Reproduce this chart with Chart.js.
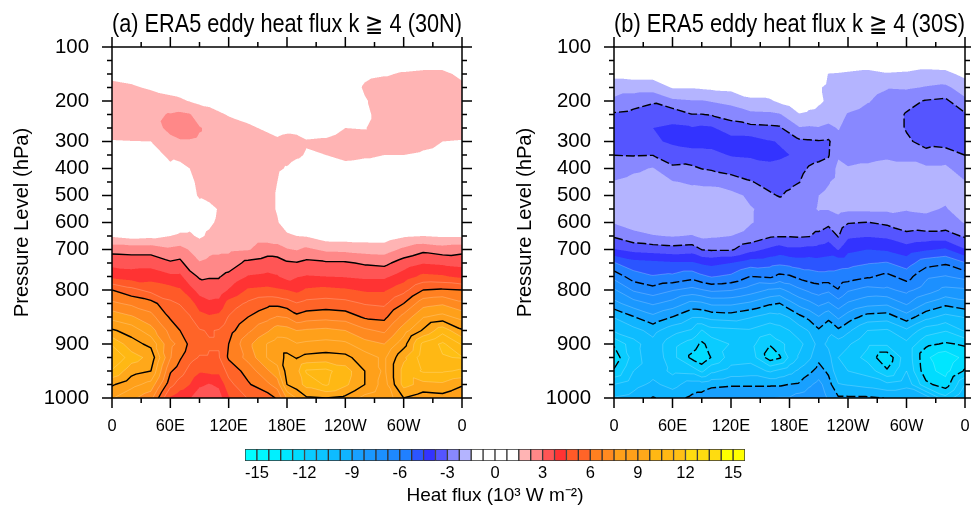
<!DOCTYPE html>
<html>
<head>
<meta charset="utf-8">
<title>ERA5 eddy heat flux</title>
<script src="https://cdn.jsdelivr.net/npm/chart.js@4"></script>
<style>
  html, body { margin: 0; padding: 0; background: #fff; }
  #page { position: relative; width: 971px; height: 505px; overflow: hidden; }
  canvas { position: absolute; }
</style>
</head>
<body>
<div id="page">
  <canvas id="panelA" width="485" height="440" style="left:0;top:0"></canvas>
  <canvas id="panelB" width="481" height="440" style="left:490px;top:0"></canvas>
  <canvas id="colorBar" width="971" height="65" style="left:0;top:440px"></canvas>
</div>
<script>
// ERA5 pressure levels, bottom to top. The axis spaces them evenly by index
const levels = [1000,975,950,925,900,875,850,825,800,775,750,700,650,600,550,500,450,400,350,300,250,225,200,175,150,125,100];
const levelLabels = [1000,900,800,700,600,500,400,300,200,100];
const lonLabels = ['0','60E','120E','180E','120W','60W','0'];

// Contour levels and the colours of the 42 bands between them
const bandColors = [
  '#00FFFF','#00F8FF','#00F0FF','#00E6FF','#00DCFF','#0ACCFF','#0CC4FF','#0EBCFF','#10B4FF','#18A0FF','#1A98FF','#1C90FF','#1E88FF','#2080FF','#2B55FF','#3333FF','#5555FF','#8888FF','#B4B4FF',
  '#FFFFFF','#FFFFFF','#FFFFFF','#FFFFFF',
  '#FFB4B4','#FF8888','#FF5555','#FF3333','#FF5A28','#FF6428','#FF8020','#FF8A20','#FFA01A','#FFA01A','#FFA81A','#FFB814','#FFB814','#FFC015','#FFDC10','#FFDC10','#FFDC10','#FFFF00','#FFFF00'
];
const levelStep = 0.75;
const lowestLevel = -15;

// Panel a, 30N: one list per longitude, 1000 hPa first
const lonsA = [0,20,40,60,70,80,90,100,110,120,140,160,170,180,190,200,220,240,260,280,300,320,340,360];
const fluxA = [
  [8.3,9.1,10.4,11.3,10.4,9.1,8.0,6.9,6.0,4.3,3.5,2.75,1.4, 0.7,0.7,0.8,0.9,1.0,1.3,1.45,1.9,2.0,1.9,1.7,1.3,0.7,0.3],
  [7.7,8.5,9.3,10.1,9.3,8.7,7.6,6.6,5.5,4.1,3.45,2.7,1.2, 0.7,0.7,0.8,0.9,1.0,1.3,1.48,1.9,2.0,1.9,1.6,1.2,0.7,0.3],
  [7.0,8.0,9.0,9.5,8.8,7.8,7.0,6.3,5.0,4.2,3.45,2.7,1.3, 0.7,0.8,0.8,0.9,1.1,1.3,1.5,2.0,2.1,1.9,1.4,1.0,0.6,0.3],
  [4.4,5.5,6.1,6.8,6.9,6.5,5.9,5.4,4.8,3.9,3.1,2.4,1.5, 1.0,1.0,1.1,1.2,1.4,1.6,2.1,2.4,2.3,1.65,1.3,0.9,0.6,0.3],
  [4.0,4.9,5.6,6.1,6.6,6.0,5.7,5.2,4.6,3.9,3.2,2.5,1.6, 1.2,1.2,1.1,1.2,1.3,1.7,2.2,2.5,2.4,1.6,1.2,0.9,0.6,0.3],
  [3.8,4.5,5.0,5.5,5.8,5.6,5.3,4.9,4.0,3.3,2.6,2.2,1.6, 1.3,1.3,1.35,1.4,1.5,1.9,2.2,2.5,2.3,1.47,1.15,0.9,0.6,0.3],
  [3.2,3.9,4.6,5.2,5.5,5.3,4.8,4.1,3.5,2.9,2.3,1.9,1.4, 1.3,1.35,1.55,1.6,1.75,2.0,2.15,2.3,1.9,1.35,1.1,0.9,0.6,0.3],
  [3.1,3.7,4.7,5.2,5.3,5.2,4.6,3.9,3.3,2.95,2.4,2.1,1.6, 1.4,1.3,1.7,1.8,1.9,2.0,2.1,2.1,1.75,1.3,1.05,0.9,0.6,0.3],
  [3.4,3.9,4.7,5.2,5.3,5.3,4.7,4.0,3.3,2.95,2.5,2.1,1.8, 1.6,1.55,1.8,1.9,2.0,2.05,2.1,2.0,1.6,1.15,0.95,0.8,0.5,0.3],
  [4.4,5.0,5.5,6.1,6.0,5.7,5.3,4.8,3.8,3.2,2.6,2.1,1.8, 1.8,1.8,2.0,2.0,2.1,2.1,2.0,1.8,1.45,1.1,1.0,0.7,0.5,0.3],
  [5.3,5.9,6.3,7.0,7.3,6.6,6.0,5.4,4.6,3.8,3.2,2.2,1.9, 1.9,1.8,1.9,2.0,2.0,2.0,1.9,1.6,1.3,1.1,0.9,0.7,0.5,0.3],
  [5.6,6.6,7.4,8.3,8.3,7.4,6.5,5.8,4.7,3.9,3.4,2.6,1.9, 1.8,1.7,1.7,1.7,1.7,1.9,1.7,1.4,1.15,1.0,0.8,0.6,0.4,0.2],
  [6.1,7.1,8.0,8.6,8.6,7.9,6.8,5.8,4.6,3.8,3.4,2.5,1.9, 1.55,1.45,1.45,1.5,1.6,1.7,1.6,1.3,1.1,0.95,0.8,0.6,0.4,0.2],
  [7.6,9.0,9.3,9.2,8.6,7.8,6.7,5.6,4.5,3.5,3.1,2.3,1.6, 1.2,1.0,1.0,1.15,1.45,1.75,1.7,1.35,1.15,1.0,0.8,0.6,0.4,0.2],
  [8.3,9.4,9.5,8.95,8.3,7.5,6.2,5.3,4.3,3.7,3.05,2.2,1.5, 1.1,0.95,0.95,1.05,1.25,1.6,1.7,1.3,1.1,1.0,0.8,0.6,0.4,0.2],
  [8.9,10.0,10.6,9.2,8.4,7.6,6.4,5.5,4.6,3.8,3.2,2.4,1.45, 1.1,0.9,0.9,1.0,1.2,1.45,1.55,1.2,1.0,0.9,0.7,0.5,0.4,0.2],
  [9.0,10.6,10.7,9.3,8.5,7.7,6.5,5.6,4.7,3.75,3.1,2.1,1.1, 0.9,0.8,0.8,0.9,1.1,1.5,1.6,1.2,1.0,0.9,0.7,0.5,0.4,0.2],
  [8.8,9.9,10.1,9.2,8.4,7.5,6.4,5.5,4.6,3.7,3.1,2.05,1.1, 0.8,0.75,0.8,0.9,1.25,1.7,1.8,1.5,1.1,0.95,0.7,0.5,0.4,0.2],
  [8.0,9.0,9.0,8.6,7.8,6.9,5.9,5.2,4.4,3.6,2.9,1.95,1.1, 0.8,0.7,0.75,0.85,1.2,1.6,1.9,1.45,1.25,1.4,1.65,1.25,0.7,0.3],
  [7.6,7.9,8.1,8.1,7.5,6.6,5.8,5.1,4.4,3.6,2.8,1.9,1.1, 0.8,0.7,0.7,0.8,1.2,1.5,1.9,2.0,2.0,2.0,2.0,1.4,0.9,0.4],
  [9.0,10.0,10.0,9.6,8.7,7.9,7.0,6.0,5.0,4.1,3.35,2.4,1.4, 0.9,0.8,0.8,0.9,1.1,1.5,1.9,2.0,2.0,2.0,2.0,1.6,0.9,0.4],
  [8.6,9.5,10.6,10.9,10.7,9.1,8.2,7.2,6.0,4.7,3.7,2.8,1.5, 0.85,0.75,0.75,0.85,1.05,1.4,1.7,1.9,2.0,2.0,2.0,1.7,1.0,0.4],
  [8.7,9.6,10.6,11.2,11.4,10.2,8.5,7.4,6.1,4.6,3.6,2.6,1.4, 0.8,0.7,0.7,0.8,1.0,1.3,1.5,1.9,2.0,2.1,2.1,1.7,1.0,0.4],
  [8.3,9.1,10.4,11.3,10.4,9.1,8.0,6.9,6.0,4.3,3.5,2.75,1.4, 0.7,0.7,0.8,0.9,1.0,1.3,1.45,1.9,2.0,1.9,1.7,1.3,0.7,0.3]
];

// Panel b, 30S
const lonsB = [0,20,40,60,80,90,100,120,140,160,170,180,190,200,210,220,230,240,260,280,300,320,340,360];
const fluxB = [
  [-9.7,-10.5,-11.9,-12.5,-11.9,-10.4,-9.7,-8.5,-7.6,-6.5,-5.3,-3.8,-2.9, -2.2,-1.9,-1.9,-2.2,-2.7,-3.01,-3.3,-3.4,-3.1,-2.4,-1.9,-1.3,-0.8,-0.3],
  [-9.5,-10,-10.5,-10.9,-10.8,-10,-9.05,-7.85,-6.65,-5.6,-4.8,-3.5,-2.5, -1.9,-1.7,-1.7,-2.0,-2.4,-3.05,-3.4,-3.4,-3.2,-2.7,-1.9,-1.2,-0.8,-0.3],
  [-8.95,-9.6,-10,-9.9,-10,-9.5,-8.45,-7.4,-6.3,-5.3,-4.7,-3.4,-2.3, -1.7,-1.55,-1.6,-1.9,-2.2,-3.02,-3.6,-3.75,-3.4,-2.9,-1.9,-1.2,-0.8,-0.3],
  [-9.3,-10,-10.7,-11,-11,-10.2,-9.02,-7.8,-6.7,-5.4,-4.6,-3.3,-2.2, -1.6,-1.55,-1.6,-2.2,-2.9,-3.3,-3.9,-3.85,-3.5,-2.4,-1.45,-1.1,-0.8,-0.3],
  [-8.85,-9.4,-10.8,-12.2,-11.6,-10.6,-9.7,-8.5,-7,-5.7,-4.6,-3.4,-2.3, -1.7,-1.55,-1.95,-2.35,-2.85,-3.5,-4,-3.8,-3.02,-2.3,-1.45,-1.1,-0.8,-0.3],
  [-8.7,-9.4,-11.4,-12.6,-12.15,-11.3,-9.7,-8.4,-6.8,-5.4,-4.4,-2.98,-2.1, -1.6,-1.5,-1.9,-2.4,-3.02,-3.5,-4,-3.9,-3.02,-2.3,-1.4,-1.1,-0.8,-0.3],
  [-8.4,-9.2,-10.7,-11.95,-11.7,-10.8,-9.5,-8.1,-6.6,-5.2,-4.3,-2.9,-2.15, -1.6,-1.5,-1.95,-2.4,-3.1,-3.55,-4,-3.85,-2.95,-2.2,-1.35,-1,-0.7,-0.3],
  [-8.3,-9.1,-10.2,-10.9,-11.2,-10.7,-9.4,-8.1,-6.7,-5.4,-4.5,-2.9,-2.25, -1.8,-1.6,-2,-2.7,-3.25,-3.8,-4.1,-3.3,-2.75,-2,-1.3,-1,-0.7,-0.3],
  [-8.3,-9.1,-10.1,-10.8,-11,-10.6,-9.7,-8.4,-7.1,-6.02,-4.9,-3.5,-2.5, -2.2,-2.2,-2.4,-2.95,-3.4,-3.85,-4.1,-3.2,-2.45,-1.6,-1.2,-0.9,-0.6,-0.3],
  [-8.3,-9.1,-10.6,-12.4,-11.95,-11,-10.1,-8.9,-7.6,-5.85,-5,-3.9,-2.9, -2.5,-2.45,-2.9,-3.25,-3.6,-3.9,-3.8,-3.15,-2.4,-1.6,-1,-0.8,-0.5,-0.2],
  [-8.2,-9.1,-10.3,-12.1,-11.4,-10.8,-10,-9.02,-7.7,-6.2,-5.1,-4.1,-2.95, -2.6,-2.6,-3.05,-3.3,-3.55,-3.85,-3.7,-3.1,-2.3,-1.35,-0.9,-0.7,-0.5,-0.2],
  [-8.2,-8.98,-10,-11.1,-11.1,-10.5,-9.7,-8.5,-7.3,-6.1,-5,-3.9,-2.95, -2.6,-2.6,-2.85,-3.2,-3.45,-3.75,-3.65,-2.6,-2,-1.2,-0.8,-0.6,-0.4,-0.2],
  [-7.9,-8.9,-9.6,-10.4,-10.7,-10.1,-9.2,-8,-6.9,-5.8,-4.9,-3.9,-2.9, -2.55,-2.5,-2.6,-3.02,-3.2,-3.4,-3.15,-2.3,-1.55,-0.9,-0.7,-0.6,-0.4,-0.2],
  [-7.7,-8.4,-9.2,-9.9,-10.2,-9.7,-8.8,-7.7,-6.6,-5.6,-4.9,-4,-2.95, -2.5,-2.4,-2.5,-2.7,-2.95,-3.2,-3.1,-2.35,-1.65,-1.2,-0.9,-0.7,-0.4,-0.2],
  [-7.5,-8,-8.7,-9.2,-9.5,-9.1,-8.3,-7.3,-6.4,-5.5,-4.8,-4.02,-3.25, -2.5,-2.2,-2.25,-2.5,-2.85,-3.15,-3.05,-2.3,-1.7,-1.4,-1.45,-1.2,-0.8,-0.3],
  [-8.4,-8.7,-9.15,-9.5,-9.9,-9.6,-8.8,-7.6,-6.6,-5.5,-4.9,-4.1,-3.5, -2.8,-2.2,-2.1,-2.3,-2.75,-3.05,-3.1,-2.45,-1.85,-1.6,-1.6,-1.52,-0.9,-0.4],
  [-8.9,-9.7,-10.3,-10.5,-10.1,-9.15,-8.1,-7.1,-6.05,-5.5,-5,-3.7,-2.95, -2.6,-2,-1.9,-2,-2.05,-2.35,-2.5,-2.2,-2,-1.75,-1.7,-1.55,-0.95,-0.4],
  [-8.9,-9.8,-10.5,-10.8,-10.4,-9.6,-8.6,-7.6,-6.65,-5.6,-5.02,-4.3,-3.6, -2.95,-2.1,-1.85,-1.9,-2.2,-2.5,-2.65,-2.5,-2.3,-1.9,-1.7,-1.6,-1,-0.4],
  [-8.9,-10,-10.8,-11.5,-11.1,-10.5,-9.3,-8,-7.02,-5.9,-5.2,-4.5,-3.7, -3.02,-2.1,-1.8,-1.85,-2.1,-2.5,-2.6,-2.55,-2.5,-2.2,-2,-1.7,-1.05,-0.4],
  [-9.02,-10.3,-11.9,-12.6,-11.1,-10.6,-9.4,-8.1,-6.9,-6.2,-5.3,-4.4,-3.6, -2.85,-2.1,-1.75,-1.7,-1.95,-2.4,-2.5,-2.6,-2.65,-2.5,-2.2,-1.55,-1,-0.4],
  [-9.02,-10,-10.5,-10.7,-10.7,-9.9,-8.6,-7.4,-6.55,-5.7,-4.9,-4.1,-3.2, -2.6,-2.2,-2,-1.9,-2.1,-2.4,-2.9,-3.05,-3.05,-2.8,-2.15,-1.6,-1,-0.4],
  [-9.3,-11.8,-12.5,-12.6,-11.8,-10.9,-9.5,-8.3,-7.1,-6.6,-5.7,-4.4,-3.3, -2.45,-2.15,-1.95,-1.85,-2.1,-2.8,-3.2,-3.35,-3.3,-3.05,-2.3,-1.75,-1.05,-0.4],
  [-11,-12.4,-13,-13.3,-12.1,-11.2,-10,-8.8,-7.7,-6.8,-5.9,-4.6,-3.3, -2.6,-2.3,-2.1,-2,-2.1,-2.65,-3.3,-3.35,-3.3,-3.15,-2.4,-1.7,-1,-0.4],
  [-9.7,-10.5,-11.9,-12.5,-11.9,-10.4,-9.7,-8.5,-7.6,-6.5,-5.3,-3.8,-2.9, -2.2,-1.9,-1.9,-2.2,-2.7,-3.01,-3.3,-3.4,-3.1,-2.4,-1.9,-1.3,-0.8,-0.3]
];

const FONT = "'Liberation Sans', Arial, sans-serif";

// Colour of a value, as RGB
const bandRGB = bandColors.map(c => [1, 3, 5].map(i => parseInt(c.substr(i, 2), 16)));
const bandIndex = v => {
  const k = Math.floor((v - lowestLevel) / levelStep) + 1;
  return Math.max(0, Math.min(bandColors.length - 1, k));
};

// Which cell of a sorted list holds the value
const cellOf = (list, v) => {
  let i = 0;
  while (i < list.length - 2 && v > list[i + 1]) i++;
  return i;
};

// Fill the plot area band by band, cells split in two triangles like the source contouring
const paintBands = (chart, lons, flux) => {
  const { ctx, chartArea, scales } = chart;
  const w = Math.round(chartArea.right - chartArea.left);
  const h = Math.round(chartArea.bottom - chartArea.top);
  const img = ctx.createImageData(w, h);
  const sub = 3;
  const xSamples = [];
  const ySamples = [];
  for (let i = 0; i < w * sub; i++) {
    const lon = scales.x.getValueForPixel(chartArea.left + (i + 0.5) / sub);
    const c = cellOf(lons, lon);
    xSamples.push([c, (lon - lons[c]) / (lons[c + 1] - lons[c])]);
  }
  for (let j = 0; j < h * sub; j++) {
    const idx = scales.y.getValueForPixel(chartArea.top + (j + 0.5) / sub);
    const r = Math.max(0, Math.min(levels.length - 2, Math.floor(idx)));
    ySamples.push([r, idx - r]);
  }
  for (let j = 0; j < h; j++) {
    for (let i = 0; i < w; i++) {
      let rs = 0, gs = 0, bs = 0;
      for (let sj = 0; sj < sub; sj++) {
        const [r, fy] = ySamples[j * sub + sj];
        for (let si = 0; si < sub; si++) {
          const [c, fx] = xSamples[i * sub + si];
          const v00 = flux[c][r], v10 = flux[c + 1][r], v01 = flux[c][r + 1], v11 = flux[c + 1][r + 1];
          const v = fx + fy <= 1
            ? v00 + fx * (v10 - v00) + fy * (v01 - v00)
            : v11 + (1 - fx) * (v01 - v11) + (1 - fy) * (v10 - v11);
          const rgb = bandRGB[bandIndex(v)];
          rs += rgb[0]; gs += rgb[1]; bs += rgb[2];
        }
      }
      const p = (j * w + i) * 4;
      const n = sub * sub;
      img.data[p] = rs / n; img.data[p + 1] = gs / n; img.data[p + 2] = bs / n; img.data[p + 3] = 255;
    }
  }
  ctx.putImageData(img, Math.round(chartArea.left), Math.round(chartArea.top));
};

// Contour lines of one level, chained so the dashes run on
const traceLevel = (level, lons, flux, scales) => {
  const pts = new Map();
  const links = new Map();
  const crossing = (a, b) => {
    const va = flux[a[0]][a[1]], vb = flux[b[0]][b[1]];
    if ((va >= level) === (vb >= level)) return null;
    const [p, q] = a[0] < b[0] || (a[0] === b[0] && a[1] < b[1]) ? [a, b] : [b, a];
    const key = p.join() + '|' + q.join();
    if (!pts.has(key)) {
      const t = (level - va) / (vb - va);
      pts.set(key, [
        scales.x.getPixelForValue(lons[a[0]] + t * (lons[b[0]] - lons[a[0]])),
        scales.y.getPixelForValue(a[1] + t * (b[1] - a[1]))
      ]);
    }
    return key;
  };
  const link = (k1, k2) => {
    if (!links.has(k1)) links.set(k1, []);
    if (!links.has(k2)) links.set(k2, []);
    links.get(k1).push(k2);
    links.get(k2).push(k1);
  };
  const triangle = (a, b, c) => {
    const hit = [crossing(a, b), crossing(b, c), crossing(c, a)].filter(Boolean);
    if (hit.length === 2) link(hit[0], hit[1]);
  };
  for (let c = 0; c < lons.length - 1; c++) {
    for (let r = 0; r < levels.length - 1; r++) {
      triangle([c, r], [c + 1, r], [c, r + 1]);
      triangle([c + 1, r + 1], [c, r + 1], [c + 1, r]);
    }
  }
  const used = new Set();
  const lines = [];
  const walk = start => {
    const line = [start];
    used.add(start);
    let cur = start;
    for (;;) {
      const next = links.get(cur).find(k => !used.has(k));
      if (!next) break;
      used.add(next);
      line.push(next);
      cur = next;
    }
    if (links.get(cur).includes(start) && line.length > 2) line.push(start);
    lines.push(line.map(k => pts.get(k)));
  };
  links.forEach((v, k) => { if (v.length === 1 && !used.has(k)) walk(k); });
  links.forEach((v, k) => { if (!used.has(k)) walk(k); });
  return lines;
};

const drawLines = (chart, lons, flux) => {
  const { ctx, chartArea, scales } = chart;
  ctx.save();
  ctx.beginPath();
  ctx.rect(chartArea.left, chartArea.top, chartArea.right - chartArea.left, chartArea.bottom - chartArea.top);
  ctx.clip();
  ctx.lineJoin = 'round';
  for (let n = 0; n < bandColors.length - 1; n++) {
    const level = lowestLevel + n * levelStep;
    const major = n % 4 === 0 && level !== 0;
    if (!major && Math.abs(level) < 5) continue;
    ctx.strokeStyle = major ? '#000' : 'rgba(255,255,255,0.3)';
    ctx.lineWidth = major ? 1.4 : 0.7;
    ctx.setLineDash(major && level < 0 ? [9, 3] : []);
    traceLevel(level, lons, flux, scales).forEach(line => {
      ctx.beginPath();
      line.forEach((p, i) => (i ? ctx.lineTo(p[0], p[1]) : ctx.moveTo(p[0], p[1])));
      ctx.stroke();
    });
  }
  ctx.restore();
};

// Frame and outward tick marks on all four sides
const drawFrame = chart => {
  const { ctx, chartArea: a, scales } = chart;
  ctx.save();
  ctx.strokeStyle = '#000';
  ctx.lineWidth = 1.5;
  ctx.strokeRect(a.left, a.top, a.right - a.left, a.bottom - a.top);
  ctx.beginPath();
  for (let lon = 0; lon <= 360; lon += 30) {
    const x = scales.x.getPixelForValue(lon);
    const len = lon % 60 === 0 ? 10 : 5;
    ctx.moveTo(x, a.top - len); ctx.lineTo(x, a.top);
    ctx.moveTo(x, a.bottom); ctx.lineTo(x, a.bottom + len);
  }
  levels.forEach((lev, i) => {
    const y = scales.y.getPixelForValue(i);
    const len = levelLabels.includes(lev) ? 10 : 5;
    ctx.moveTo(a.left - len, y); ctx.lineTo(a.left, y);
    ctx.moveTo(a.right, y); ctx.lineTo(a.right + len, y);
  });
  ctx.stroke();
  ctx.restore();
};

const fieldPlugin = (lons, flux) => ({
  id: 'contourField',
  beforeDatasetsDraw(chart) {
    paintBands(chart, lons, flux);
    drawLines(chart, lons, flux);
  },
  afterDatasetsDraw: drawFrame
});

const makePanel = (id, title, lons, flux, axisWidth, padRight, yTitlePad) => {
  const nodes = [];
  lons.forEach((lon, c) => levels.forEach((lev, r) => nodes.push({ x: lon, y: r, flux: flux[c][r] })));
  return new Chart(document.getElementById(id), {
    type: 'scatter',
    data: { datasets: [{ label: title, data: nodes, pointRadius: 0, showLine: false }] },
    plugins: [fieldPlugin(lons, flux)],
    options: {
      responsive: false,
      animation: false,
      events: [],
      layout: { padding: { left: 0, right: padRight, top: 0, bottom: 0 } },
      plugins: {
        legend: { display: false },
        tooltip: { enabled: false },
        title: {
          display: true, text: title, color: '#000', fullSize: false,
          font: { family: FONT, size: 25, weight: 'normal', lineHeight: 1.2 },
          padding: { top: 10, bottom: 7 }
        }
      },
      scales: {
        x: {
          type: 'linear', min: 0, max: 360,
          border: { display: false },
          grid: { display: false, drawTicks: false },
          ticks: {
            stepSize: 60, color: '#000', padding: 19, maxRotation: 0, autoSkip: false,
            font: { family: FONT, size: 16.4 },
            callback: v => lonLabels[v / 60]
          },
          afterFit: s => { s.height = 42; s.paddingLeft = 0; s.paddingRight = 0; }
        },
        y: {
          type: 'linear', min: 0, max: levels.length - 1,
          border: { display: false },
          grid: { display: false, drawTicks: false },
          title: {
            display: true, text: 'Pressure Level (hPa)', color: '#000',
            font: { family: FONT, size: 20.2, lineHeight: 1.2 },
            padding: { top: yTitlePad, bottom: 0 }
          },
          ticks: {
            stepSize: 1, autoSkip: false, color: '#000', padding: 23,
            font: { family: FONT, size: 20.4 },
            callback: v => (levelLabels.includes(levels[v]) ? String(levels[v]) : '')
          },
          afterFit: s => { s.width = axisWidth; }
        }
      }
    }
  });
};

makePanel('panelA', '(a) ERA5 eddy heat flux k \u2267 4 (30N)', lonsA, fluxA, 112, 23, 10);
makePanel('panelB', '(b) ERA5 eddy heat flux k \u2267 4 (30S)', lonsB, fluxB, 124, 6, 23);

// Label bar: one floating box per colour band
const barEdges = bandColors.map((c, k) => [lowestLevel + (k - 1) * levelStep, lowestLevel + k * levelStep]);
new Chart(document.getElementById('colorBar'), {
  type: 'bar',
  data: {
    labels: ['flux'],
    datasets: [{
      data: barEdges.map(e => ({ x: e, y: 'flux' })),
      backgroundColor: bandColors,
      borderColor: '#333',
      borderWidth: 1,
      borderSkipped: false,
      barPercentage: 1,
      categoryPercentage: 1
    }]
  },
  options: {
    indexAxis: 'y',
    responsive: false,
    animation: false,
    events: [],
    layout: { padding: { left: 245, right: 226, top: 9, bottom: 0 } },
    plugins: { legend: { display: false }, tooltip: { enabled: false } },
    scales: {
      y: { display: false },
      x: {
        type: 'linear', min: lowestLevel - levelStep, max: -lowestLevel + levelStep,
        border: { display: false },
        grid: { display: false, drawTicks: false },
        title: {
          display: true, text: 'Heat flux (10\u00B3 W m\u207B\u00B2)', color: '#000',
          font: { family: FONT, size: 19, lineHeight: 1 },
          padding: { top: 0, bottom: 0 }
        },
        ticks: {
          stepSize: 3, includeBounds: false, color: '#000', padding: 3, maxRotation: 0,
          font: { family: FONT, size: 16.5 },
          callback: v => String(v)
        },
        afterFit: s => { s.height = 44; }
      }
    }
  }
});
</script>
</body>
</html>
